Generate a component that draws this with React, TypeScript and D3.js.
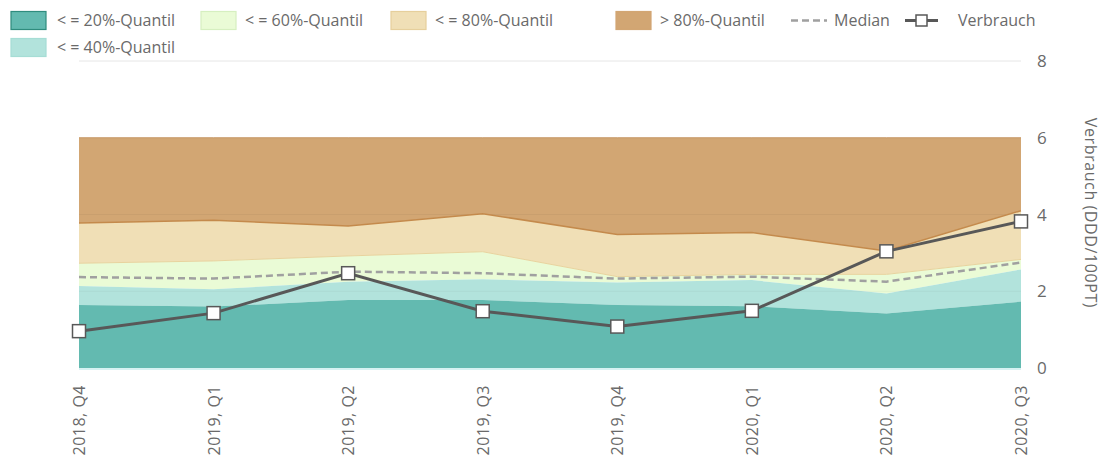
import React from "react";
import * as d3 from "d3";

const periods = ["2018, Q4", "2019, Q1", "2019, Q2", "2019, Q3", "2019, Q4", "2020, Q1", "2020, Q2", "2020, Q3"];
const q20 = [1.64, 1.6, 1.77, 1.77, 1.64, 1.61, 1.42, 1.73];
const q40 = [2.14, 2.05, 2.25, 2.31, 2.23, 2.29, 1.94, 2.57];
const q60 = [2.73, 2.79, 2.92, 3.03, 2.38, 2.44, 2.44, 2.83];
const q80 = [3.78, 3.85, 3.7, 4.02, 3.48, 3.53, 3.05, 4.1];
const qMax = [6, 6, 6, 6, 6, 6, 6, 6];
const median = [2.37, 2.33, 2.51, 2.47, 2.33, 2.38, 2.25, 2.75];
const verbrauch = [0.96, 1.43, 2.47, 1.48, 1.08, 1.49, 3.04, 3.82];
const yTicks = [0, 2, 4, 6, 8];

const W = 1107;
const H = 461;
const FONT = "'Open Sans', 'Noto Sans', sans-serif";
const TXT = "#6a6a6a";

export default function App() {
  const x = d3.scalePoint<string>().domain(periods).range([79, 1021]);
  const y = d3.scaleLinear().domain([0, 8]).range([368, 61]);

  const band = (lo: number[], hi: number[]) =>
    d3
      .area<number>()
      .x((_, i) => x(periods[i])!)
      .y0((_, i) => y(lo[i]))
      .y1((_, i) => y(hi[i]))(periods.map((_, i) => i))!;

  const line = (vals: number[]) =>
    d3
      .line<number>()
      .x((_, i) => x(periods[i])!)
      .y((v) => y(v))(vals)!;

  const zeros = periods.map(() => 0);

  const bands = [
    { lo: q80, hi: qMax, fill: "#d2a673" },
    { lo: q60, hi: q80, fill: "#f0dfb6" },
    { lo: q40, hi: q60, fill: "#eafbd6" },
    { lo: q20, hi: q40, fill: "#b2e3dc" },
    { lo: zeros, hi: q20, fill: "#63bab0" },
  ];

  const legendRow1 = [
    { label: "< = 20%-Quantil", fill: "#63bab0", stroke: "#2f8c7e", sx: 11, tx: 57 },
    { label: "< = 60%-Quantil", fill: "#eafbd6", stroke: "#d6efc0", sx: 201, tx: 245 },
    { label: "< = 80%-Quantil", fill: "#f0dfb6", stroke: "#e6cf9c", sx: 391, tx: 435 },
    { label: "> 80%-Quantil", fill: "#d2a673", stroke: "#d2a673", sx: 616, tx: 660 },
  ];

  return (
    <svg width={W} height={H} style={{ position: "absolute", left: 0, top: 0, background: "#fff" }} fontFamily={FONT}>
      <line x1={79} x2={1021} y1={y(8)} y2={y(8)} stroke="#e6e6e6" strokeWidth={1} />

      {bands.map((b, i) => (
        <path key={i} d={band(b.lo, b.hi)} fill={b.fill} />
      ))}
      {[2, 4, 6].map((t) => (
        <line key={t} x1={79} x2={1021} y1={y(t)} y2={y(t)} stroke="#000" strokeOpacity={0.04} />
      ))}
      <path d={line(qMax)} fill="none" stroke="#c89a68" strokeWidth={1} />
      <path d={line(q80)} fill="none" stroke="#c48a4c" strokeWidth={1.5} />
      <path d={line(q60)} fill="none" stroke="#e8d39e" strokeWidth={1} />
      <line x1={79} x2={1021} y1={y(0) + 1} y2={y(0) + 1} stroke="#c9eeee" strokeWidth={1.5} />

      <path d={line(median)} fill="none" stroke="#a0a0a0" strokeWidth={2.5} strokeDasharray="7,4" />
      <path d={line(verbrauch)} fill="none" stroke="#585858" strokeWidth={3} />
      {verbrauch.map((v, i) => (
        <rect
          key={i}
          x={x(periods[i])! - 6.5}
          y={y(v) - 6.5}
          width={13}
          height={13}
          fill="#fff"
          stroke="#585858"
          strokeWidth={1.5}
        />
      ))}

      {yTicks.map((t) => (
        <text key={t} x={1037} y={y(t)} dy="0.36em" fontSize={17} fill={TXT}>
          {t}
        </text>
      ))}
      <text
        transform={`translate(1085, 213) rotate(90)`}
        textAnchor="middle"
        fontSize={16}
        letterSpacing={0.6}
        fill={TXT}
      >
        Verbrauch (DDD/100PT)
      </text>

      {periods.map((p) => (
        <text
          key={p}
          transform={`translate(${x(p)! + 6}, 385) rotate(-90)`}
          textAnchor="end"
          fontSize={16}
          letterSpacing={0.5}
          fill={TXT}
        >
          {p}
        </text>
      ))}

      {legendRow1.map((l) => (
        <g key={l.label}>
          <rect x={l.sx} y={11.5} width={35} height={18} fill={l.fill} stroke={l.stroke} strokeWidth={1.2} />
          <text x={l.tx} y={20.5} dy="0.35em" fontSize={16} fill={TXT}>
            {l.label}
          </text>
        </g>
      ))}
      <rect x={11} y={38.5} width={35} height={18} fill="#b2e3dc" stroke="#a6ddd5" strokeWidth={1.2} />
      <text x={57} y={47.5} dy="0.35em" fontSize={16} fill={TXT}>
        {"< = 40%-Quantil"}
      </text>

      <line x1={791} x2={827} y1={20.5} y2={20.5} stroke="#a0a0a0" strokeWidth={2.5} strokeDasharray="7,4" />
      <text x={834} y={20.5} dy="0.35em" fontSize={16} fill={TXT}>
        Median
      </text>

      <line x1={905} x2={938} y1={20.5} y2={20.5} stroke="#585858" strokeWidth={3} />
      <rect x={916} y={15} width={11} height={11} fill="#fff" stroke="#585858" strokeWidth={1.5} />
      <text x={958} y={20.5} dy="0.35em" fontSize={16} fill={TXT}>
        Verbrauch
      </text>
    </svg>
  );
}
